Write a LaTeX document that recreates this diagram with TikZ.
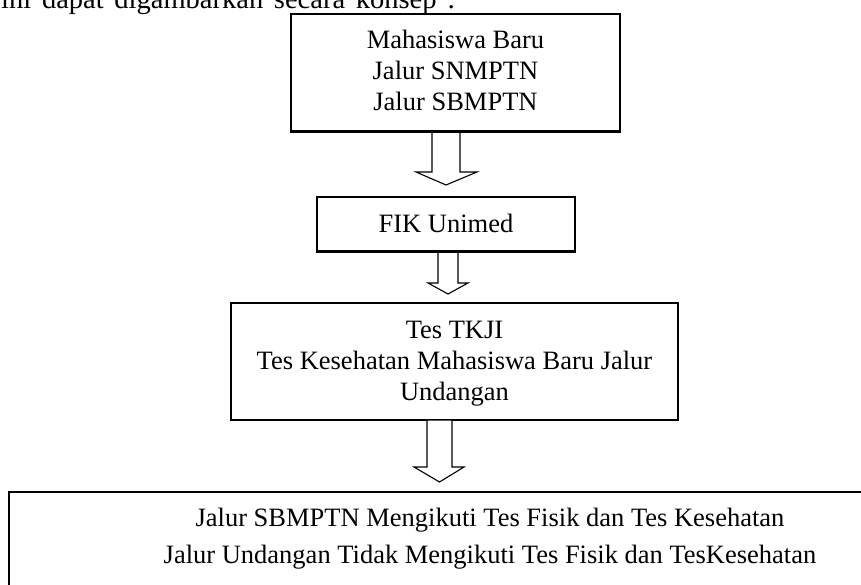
\documentclass[tikz,border=0pt]{standalone}
\usepackage{fontspec}
\setmainfont{Liberation Serif}
\usetikzlibrary{calc}
\tikzset{
  boxnode/.style={draw=black, line width=1.6pt, fill=none, inner sep=0pt},
  txt/.style={align=center, inner sep=0pt, font=\fontsize{26.5}{31}\selectfont},
  txtwide/.style={align=center, inner sep=0pt, font=\fontsize{26.5}{37}\selectfont},
  blockarrow/.style={draw=black, line width=1.1pt, line join=miter, fill=white}
}
\begin{document}
\begin{tikzpicture}[x=1pt, y=-1pt]
\useasboundingbox (0,0) rectangle (861,584);
\clip (0,0) rectangle (861,584);
\fill[white] (0,0) rectangle (861,584);

% intro text (cut at top in the reference)
\node[anchor=base west, inner sep=0pt, font=\fontsize{28.5}{31}\selectfont] (intro) at (1,8)
  {\makebox[454pt][s]{ini dapat digambarkan secara konsep :}};

% boxes
\node[boxnode, minimum width=329pt, minimum height=117pt] (b1) at (455.5,72.5) {};
\node[txt] (t1) at (455.5,70) {Mahasiswa Baru\\Jalur SNMPTN\\Jalur SBMPTN};

\node[boxnode, minimum width=258pt, minimum height=54pt] (b2) at (446,224) {};
\node[txt] (t2) at (446,223) {FIK Unimed};

\node[boxnode, minimum width=447pt, minimum height=117pt] (b3) at (454.5,361.5) {};
\node[txt] (t3) at (454.5,363.2) {Tes TKJI\\Tes Kesehatan Mahasiswa Baru Jalur\\Undangan};

\node[boxnode, minimum width=962pt, minimum height=108pt] (b4) at (490,546) {};
\node[txtwide] (t4) at (490,538.4) {Jalur SBMPTN Mengikuti Tes Fisik dan Tes Kesehatan\\Jalur Undangan Tidak Mengikuti Tes Fisik dan TesKesehatan};

% block arrows (top centre on box bottom edge)
\coordinate (a1) at (446,131);
\draw[blockarrow] ($(a1)+(-14,0)$) -- ++(0,41) -- ++(-16,0) -- ($(a1)+(0,54)$)
  -- ($(a1)+(31,41)$) -- ($(a1)+(14,41)$) -- ($(a1)+(14,0)$);

\coordinate (a2) at (448,251);
\draw[blockarrow] ($(a2)+(-10,0)$) -- ++(0,32) -- ($(a2)+(-20,32)$) -- ($(a2)+(0,43)$)
  -- ($(a2)+(20,32)$) -- ($(a2)+(10,32)$) -- ($(a2)+(10,0)$) -- cycle;

\coordinate (a3) at (439.5,420);
\draw[blockarrow] ($(a3)+(-12.5,0)$) -- ++(0,47) -- ($(a3)+(-25.5,47)$) -- ($(a3)+(0,62)$)
  -- ($(a3)+(24.5,47)$) -- ($(a3)+(12.5,47)$) -- ($(a3)+(12.5,0)$) -- cycle;

% redraw box edges over arrow tops
\draw[line width=1.6pt] (b1.south west) -- (b1.south east);
\draw[line width=1.6pt] (b2.south west) -- (b2.south east);
\end{tikzpicture}
\end{document}
